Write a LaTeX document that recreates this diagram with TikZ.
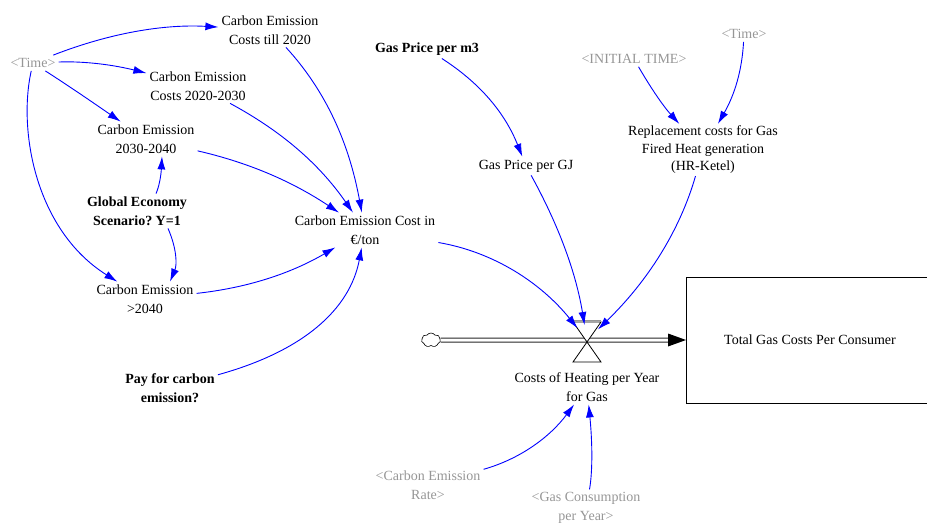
\documentclass[tikz,border=0pt]{standalone}
\usepackage{fontspec}
\setmainfont{Liberation Serif}
\usetikzlibrary{arrows.meta,shapes.symbols}
\definecolor{shadowgray}{RGB}{150,150,150}
\definecolor{linkblue}{RGB}{0,0,255}
\frenchspacing
\begin{document}
\begin{tikzpicture}[x=1pt,y=-1pt,
  every node/.style={font=\fontsize{14}{18.5}\selectfont, align=center, inner sep=3pt},
  var/.style={text=black},
  bvar/.style={text=black, font=\fontsize{14}{18.5}\selectfont\bfseries},
  shadow/.style={text=shadowgray},
  link/.style={draw=linkblue, line width=0.9pt, -{Latex[length=13pt,width=8pt]}},
  pipe/.style={draw=black!85, double=white, double distance=3pt, line width=1pt}
]
\useasboundingbox (0,0) rectangle (927,524);

% nodes
\node[shadow] (timeL) at (33,63) {<Time>};
\node[var] (c2020) at (270,30) {Carbon Emission\\Costs till 2020};
\node[var] (c2030) at (198,86) {Carbon Emission\\Costs 2020-2030};
\node[var] (c2040) at (146,139) {Carbon Emission\\2030-2040};
\node[bvar] (glob) at (137,211) {Global Economy\\Scenario? Y=1};
\node[var] (cgt) at (145,299) {Carbon Emission\\>2040};
\node[var] (cec) at (365,230) {Carbon Emission Cost in\\€/ton};
\node[bvar] (pay) at (170,388) {Pay for carbon\\emission?};
\node[bvar] (gpm3) at (427,49) {Gas Price per m3};
\node[var] (gpgj) at (526,166) {Gas Price per GJ};
\node[shadow] (init) at (634,59) {<INITIAL TIME>};
\node[shadow] (timeR) at (744,34) {<Time>};
\node[var, font=\fontsize{14}{17.5}\selectfont, inner sep=2pt] (repl) at (703,150) {Replacement costs for Gas\\Fired Heat generation\\(HR-Ketel)};
\node[var] (flow) at (587,387) {Costs of Heating per Year\\for Gas};
\node[shadow] (cer) at (428,485) {<Carbon Emission\\Rate>};
\node[shadow] (gcon) at (586,508) {<Gas Consumption\\per Year>};

% stock
\node[draw=black, line width=0.8pt, minimum width=246pt, minimum height=126pt, anchor=north west, inner sep=0pt] (stock) at (686,277) {};
\node[var] (stocklbl) at (810,340) {Total Gas Costs Per Consumer};

% cloud
\node[cloud, draw=black, fill=white, cloud puffs=7, cloud puff arc=110, aspect=1.4, minimum width=19pt, minimum height=14pt, inner sep=0pt, line width=0.6pt] (cloud) at (431,340) {};

% valve placeholder
\node[circle, minimum size=30pt, inner sep=0pt] (valve) at (587,340) {};
\coordinate (pipeend) at ([xshift=-18pt]stock.west |- valve.center);

% pipe
\draw[pipe] (cloud.east) -- (pipeend);
\fill[black] ([yshift=6.5pt]pipeend) -- (stock.west |- valve.center) -- ([yshift=-6.5pt]pipeend) -- cycle;

% valve hourglass
\draw[black, line width=0.8pt, fill=white] (573,322) -- (601,322) -- (573,362) -- (601,362) -- cycle;
\draw[shadowgray, line width=1pt] (573,320.5) -- (601,320.5);

% links
\draw[link] (timeL) .. controls (110,33) and (164,24) .. (c2020);
\draw[link] (timeL) .. controls (85,61) and (114,65) .. (c2030);
\draw[link] (timeL) .. controls (72,88) and (95,104) .. (c2040);
\draw[link] (timeL) .. controls (18,130) and (35,230) .. (cgt);
\draw[link] (c2020) .. controls (326,91) and (349,143) .. (cec);
\draw[link] (c2030) .. controls (283,132) and (320,165) .. (cec);
\draw[link] (c2040) .. controls (246,162) and (290,180) .. (cec);
\draw[link] ([xshift=19pt]glob.north) .. controls (159,187) and (161,176) .. ([xshift=16pt]c2040.south);
\draw[link] ([xshift=31pt]glob.south) .. controls (177,249) and (177,265) .. ([xshift=25pt]cgt.north);
\draw[link] (cgt) .. controls (246,288) and (290,274) .. (cec);
\draw[link] (pay) .. controls (304,351) and (350,309) .. (cec);
\draw[link] (gpm3) .. controls (480,83) and (505,113) .. (gpgj);
\draw[link] (gpgj) .. controls (559,226) and (576,273) .. (valve);
\draw[link] (cec) .. controls (494,252) and (541,283) .. (valve);
\draw[link] (repl) .. controls (680,230) and (648,281) .. (valve);
\draw[link] (init) .. controls (652,90) and (664,107) .. (repl);
\draw[link] (timeR) .. controls (742,70) and (735,94) .. (repl);
\draw[link] (cer) .. controls (520,459) and (550,437) .. (flow);
\draw[link] (gcon) .. controls (592,476) and (593,449) .. (flow);
\end{tikzpicture}
\end{document}
